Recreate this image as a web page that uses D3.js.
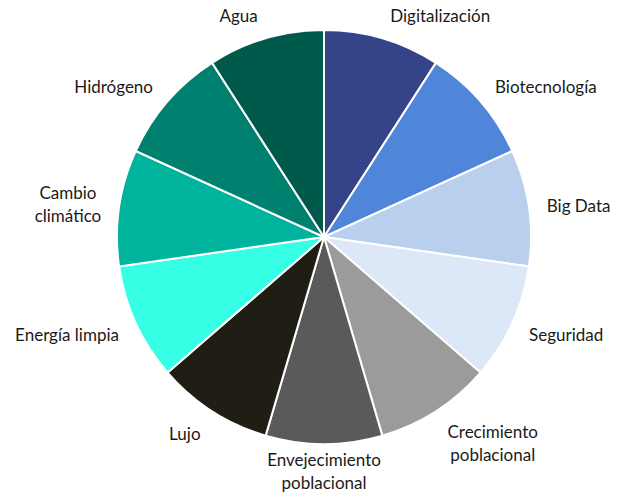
<!DOCTYPE html>
<html>
<head>
<meta charset="utf-8">
<script src="https://cdn.jsdelivr.net/npm/d3@7"></script>
<style>
  body { margin: 0; background: #fff; }
  svg text { font-family: Lato, "Open Sans", sans-serif; font-size: 17px; fill: #1a1a1a; }
</style>
</head>
<body>
<svg id="chart" width="621" height="494"></svg>
<script>
// slices clockwise from 12 o'clock
var categories = [
    ["Digitalización"],
    ["Biotecnología"],
    ["Big Data"],
    ["Seguridad"],
    ["Crecimiento", "poblacional"],
    ["Envejecimiento", "poblacional"],
    ["Lujo"],
    ["Energía limpia"],
    ["Cambio", "climático"],
    ["Hidrógeno"],
    ["Agua"]
];
var values = [1, 1, 1, 1, 1, 1, 1, 1, 1, 1, 1];
var colors = ["#354489", "#4f86da", "#b8cfee", "#dce7f7", "#9b9b9b", "#5a5a5a",
              "#201e14", "#36ffe6", "#00b39d", "#00806f", "#005a4b"];

var cx = 324, cy = 237, radius = 207;
var lineH = 23;

var rows = values.map(function(v, i) {
    return { label: categories[i], value: v, color: colors[i] };
});

var svg = d3.select("#chart");
var g = svg.append("g").attr("transform", "translate(" + cx + "," + cy + ")");

var pie = d3.pie().sort(null).value(function(d) { return d.value; });
var arc = d3.arc().innerRadius(0).outerRadius(radius);
var arcs = pie(rows);

g.selectAll("path")
    .data(arcs)
    .enter().append("path")
    .attr("d", arc)
    .attr("fill", function(d) { return d.data.color; })
    .attr("stroke", "#fff")
    .attr("stroke-width", 2);

// labels outside the end, like Excel
var labelR = radius + 14;
var labels = g.selectAll("text.lbl")
    .data(arcs)
    .enter().append("text")
    .attr("class", "lbl")
    .attr("text-anchor", "middle");

labels.each(function(d) {
    var t = d3.select(this);
    var a = (d.startAngle + d.endAngle) / 2;
    var s = Math.sin(a), c = Math.cos(a);
    var px = labelR * s, py = -labelR * c;
    var lines = d.data.label;
    lines.forEach(function(l, i) {
        t.append("tspan").attr("x", 0).attr("dy", i == 0 ? 0 : lineH).text(l);
    });
    var w = 0;
    t.selectAll("tspan").each(function() { w = Math.max(w, this.getComputedTextLength()); });
    var h = lines.length * lineH;
    var x, yc;
    if (Math.abs(s) < 0.1) {
        x = px;
        yc = -c * (radius + 5 + h / 2);
    } else {
        x = s > 0 ? px + w / 2 + 4 : px - w / 2 - 4;
        yc = py - c * h / 2 + (c < 0 ? 2 : 3);
    }
    var y0 = yc - h / 2 + lineH / 2 + 5;
    t.attr("transform", "translate(" + x + "," + y0 + ")");
});
</script>
</body>
</html>
